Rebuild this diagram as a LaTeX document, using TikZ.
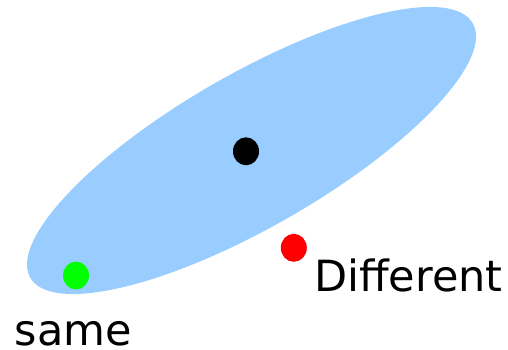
\documentclass[tikz,border=0pt]{standalone}
\usepackage{fontspec}
\setmainfont{DejaVu Sans}
\usetikzlibrary{shapes.geometric}
\definecolor{blobblue}{HTML}{99CCFF}
\begin{document}
\begin{tikzpicture}[x=1pt,y=1pt,
  dot/.style={ellipse,minimum width=26pt,minimum height=28pt,inner sep=0pt,draw=none},
  lbl/.style={anchor=base west,inner sep=0pt,font=\fontsize{43}{50}\selectfont}]
\useasboundingbox (0,0) rectangle (508,349);
\fill[blobblue] (251.5,198.5) ellipse [x radius=255.2,y radius=76.6,rotate=29.9];
\node[dot,fill=black] (c) at (246,197.7) {};
\node[dot,fill=green] (s) at (76,73.5) {};
\node[dot,fill=red] (d) at (293.8,101.2) {};
\node[lbl] (dl) at (314,57.3) {Different};
\node[lbl] (sl) at (14.7,3.5) {same};
\end{tikzpicture}
\end{document}
